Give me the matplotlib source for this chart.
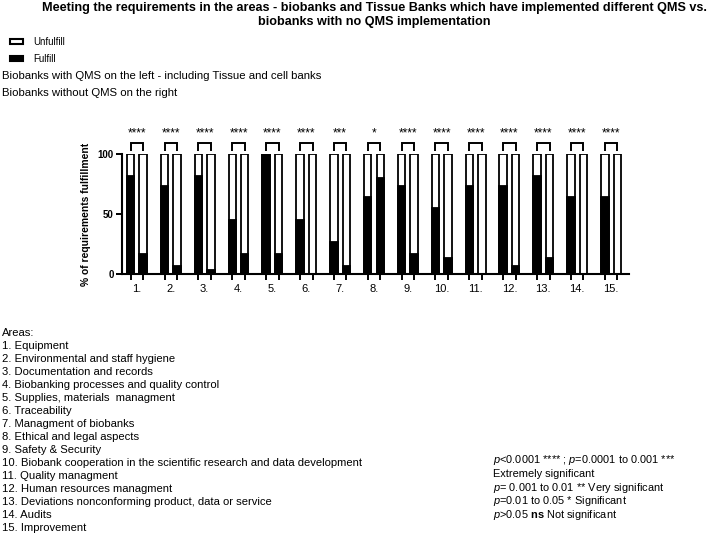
import matplotlib as mpl
mpl.use('Agg')
import matplotlib.pyplot as plt
from matplotlib.patches import Patch
import numpy as np

plt.rcParams['font.family'] = ['Liberation Sans', 'DejaVu Sans']
plt.rcParams['mathtext.fontset'] = 'custom'
plt.rcParams['mathtext.rm'] = 'Liberation Sans'
plt.rcParams['mathtext.it'] = 'Liberation Sans:italic'
plt.rcParams['mathtext.bf'] = 'Liberation Sans:bold'

# data
areas = ['1.', '2.', '3.', '4.', '5.', '6.', '7.', '8.', '9.', '10.',
         '11.', '12.', '13.', '14.', '15.']
qms_fulfill = [82, 73, 82, 45, 100, 45, 27, 64, 73, 55, 73, 73, 82, 64, 64]
noqms_fulfill = [17, 7, 3, 17, 17, 0, 7, 80, 17, 13, 0, 7, 13, 0, 0]
stars = ['****', '****', '****', '****', '****', '****', '***', '*',
         '****', '****', '****', '****', '****', '****', '****']
area_names = [
    'Equipment',
    'Environmental and staff hygiene',
    'Documentation and records',
    'Biobanking processes and quality control',
    'Supplies, materials  managment',
    'Traceability',
    'Managment of biobanks',
    'Ethical and legal aspects',
    'Safety & Security',
    'Biobank cooperation in the scientific research and data development',
    'Quality managment',
    'Human resources managment',
    'Deviations nonconforming product, data or service',
    'Audits',
    'Improvement',
]

W, H = 708, 535
fig = plt.figure(figsize=(W / 100, H / 100), dpi=100)


def fx(px):
    return px / W


def fy(py):
    return 1 - py / H


# titles
fig.text(fx(374), fy(8), 'Meeting the requirements in the areas - biobanks and Tissue Banks '
         'which have implemented different QMS vs.', ha='center', va='center',
         fontsize=9.05, fontweight='bold')
fig.text(fx(374), fy(21.5), 'biobanks with no QMS implementation', ha='center',
         va='center', fontsize=9.05, fontweight='bold')

# legend
handles = [Patch(facecolor='white', edgecolor='black', linewidth=1.5, label='Unfulfill'),
           Patch(facecolor='black', edgecolor='black', linewidth=1.5, label='Fulfill')]
fig.legend(handles=handles, loc='upper left', bbox_to_anchor=(fx(5), fy(32)),
           frameon=False, handlelength=1.4, handleheight=0.5,
           handletextpad=1.0, labelspacing=0.75, borderpad=0,
           prop={'size': 7})
fig.text(fx(2), fy(76), 'Biobanks with QMS on the left - including Tissue and cell banks',
         va='center', fontsize=8.2)
fig.text(fx(2), fy(93), 'Biobanks without QMS on the right', va='center', fontsize=8.2)

# main axes
ax = fig.add_axes([fx(122), fy(274), (629 - 122) / W, 120 / H])
x = np.arange(1, len(areas) + 1)
off, bw = 0.185, 0.22
for xs, vals in [(x - off, qms_fulfill), (x + off, noqms_fulfill)]:
    ax.bar(xs, 100, width=bw, color='white', edgecolor='black', linewidth=1.3, zorder=2)
    ax.bar(xs, vals, width=bw, color='black', edgecolor='black', linewidth=1.3, zorder=3)

for xi, s in zip(x, stars):
    ax.plot([xi - off, xi - off, xi + off, xi + off], [103, 109, 109, 103],
            color='black', lw=1.4, clip_on=False, solid_joinstyle='miter')
    ax.text(xi, 112, s, ha='center', va='bottom', fontsize=8.5, clip_on=False)

ax.set_xlim(0.56, 15.53)
ax.set_ylim(0, 100)
ax.set_yticks([0, 50, 100])
ax.set_yticklabels(['0', '50', '100'], fontsize=7, fontweight='bold')
ax.set_ylabel('% of requirements fulfillment', fontsize=7.4, fontweight='bold', labelpad=5)

ax.set_xticks(np.concatenate([x - off, x + off]))
ax.set_xticklabels([])
ax.set_xticks(x, minor=True)
ax.set_xticklabels(areas, minor=True, fontsize=8)
ax.tick_params(axis='x', which='major', length=4, width=1.4, direction='out')
ax.tick_params(axis='x', which='minor', length=0, pad=7)
ax.tick_params(axis='y', length=4, width=1.4, pad=2)

for side in ['top', 'right']:
    ax.spines[side].set_visible(False)
for side in ['left', 'bottom']:
    ax.spines[side].set_linewidth(1.5)

# areas list
lines = ['Areas:'] + ['{}. {}'.format(i + 1, n) for i, n in enumerate(area_names)]
for i, line in enumerate(lines):
    fig.text(fx(2), fy(333 + 13 * i), line, va='center', fontsize=8.1)

# p-value key
pkey = [r'$p$<0.0001 **** ; $p$=0.0001 to 0.001 ***',
        'Extremely significant',
        r'$p$= 0.001 to 0.01 ** Very significant',
        r'$p$=0.01 to 0.05 * Significant',
        r'$p$>0.05 $\mathbf{ns}$ Not significant']
for i, line in enumerate(pkey):
    fig.text(fx(493), fy(460 + 13.8 * i), line, va='center', fontsize=7.9)

fig.savefig('out.png', dpi=100)
